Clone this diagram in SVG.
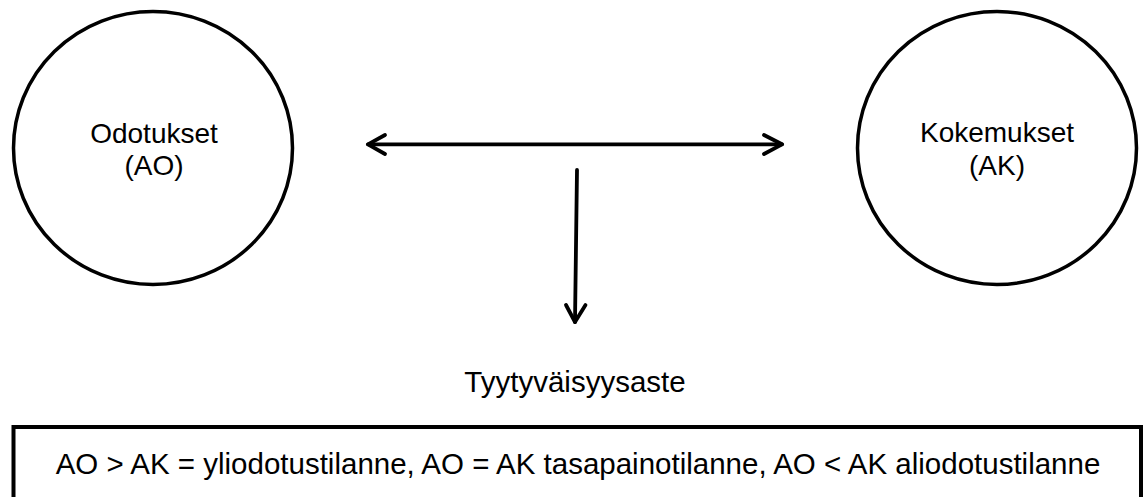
<svg xmlns="http://www.w3.org/2000/svg" width="1144" height="497" viewBox="0 0 1144 497">
<style>
.node{fill:#fff;stroke:#000;stroke-width:3.5}
.lbl{font-family:"Liberation Sans",Arial,sans-serif;font-size:28px;fill:#000;text-anchor:middle}
.big{font-size:29.5px}
.conn{fill:none;stroke:#000;stroke-width:3.8;stroke-linecap:round;stroke-linejoin:round}
</style>
<rect width="1144" height="497" fill="#fff"/>
<g id="odotukset">
<ellipse class="node" cx="153" cy="148" rx="139.5" ry="136.5"/>
<text class="lbl" x="154" y="143">Odotukset</text>
<text class="lbl" x="154" y="175">(AO)</text>
</g>
<g id="kokemukset">
<ellipse class="node" cx="997" cy="148" rx="139.5" ry="136.5"/>
<text class="lbl" x="997" y="142">Kokemukset</text>
<text class="lbl" x="997" y="175">(AK)</text>
</g>
<g id="tyytyvaisyysaste">
<text class="lbl big" x="575" y="392">Tyytyväisyysaste</text>
</g>
<g id="selite">
<rect x="13.5" y="427" width="1127.5" height="90" fill="#fff" stroke="#000" stroke-width="4"/>
<text class="lbl big" x="578" y="474">AO &gt; AK = yliodotustilanne, AO = AK tasapainotilanne, AO &lt; AK aliodotustilanne</text>
</g>
<g id="connectors">
<path class="conn" d="M368 144.3 H782"/>
<path class="conn" d="M385 135 L368 144.3 L385 154"/>
<path class="conn" d="M764 135 L782 144.3 L764 154"/>
<path class="conn" d="M577 170 L575 322"/>
<path class="conn" d="M566 305 L575 322 L585.5 305"/>
</g>
</svg>
